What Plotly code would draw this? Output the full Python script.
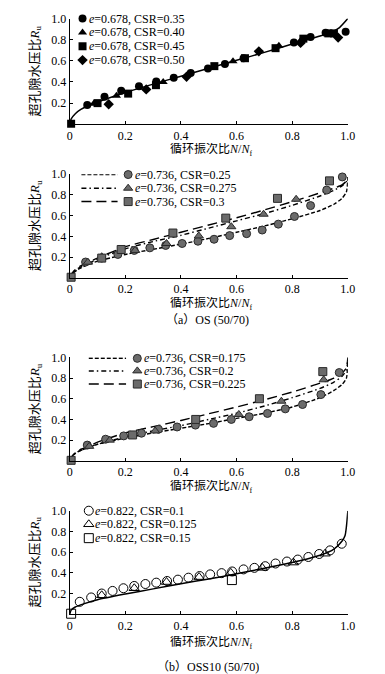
import plotly.graph_objects as go

W, H = 385, 674

# ---------------- data ----------------
# Panel 1: OS (50/70), e=0.678
p1_c_x = [0.063, 0.125, 0.185, 0.249, 0.311, 0.374, 0.435, 0.497, 0.558, 0.625, 0.806, 0.866, 0.92, 0.992]
p1_c_y = [0.183, 0.261, 0.317, 0.36, 0.404, 0.441, 0.484, 0.528, 0.571, 0.625, 0.773, 0.826, 0.865, 0.876]
p1_t_x = [0.086, 0.168, 0.336, 0.587, 0.752, 0.83]
p1_t_y = [0.193, 0.27, 0.40, 0.596, 0.742, 0.79]
p1_s_x = [0.005, 0.10, 0.21, 0.31, 0.52, 0.63, 0.74, 0.84, 0.93, 0.95]
p1_s_y = [0.005, 0.20, 0.29, 0.37, 0.55, 0.625, 0.72, 0.81, 0.86, 0.86]
p1_d_x = [0.14, 0.275, 0.42, 0.68, 0.83, 0.965]
p1_d_y = [0.19, 0.33, 0.45, 0.69, 0.77, 0.82]
p1_fit_x = [0, 0.005, 0.02, 0.04, 0.07, 0.1, 0.2, 0.3, 0.4, 0.5, 0.6, 0.7, 0.8, 0.9, 0.94, 0.97, 1.0]
p1_fit_y = [0, 0.05, 0.10, 0.14, 0.18, 0.21, 0.30, 0.38, 0.455, 0.53, 0.605, 0.68, 0.76, 0.835, 0.87, 0.915, 1.0]
p1_labels = ["0.35", "0.40", "0.45", "0.50"]

# Panel 2: OS (50/70), e=0.736
p2_c_x = [0.057, 0.115, 0.173, 0.232, 0.288, 0.345, 0.404, 0.461, 0.519, 0.575, 0.636, 0.692, 0.75, 0.808, 0.866, 0.924, 0.98]
p2_c_y = [0.152, 0.19, 0.225, 0.264, 0.289, 0.312, 0.331, 0.353, 0.372, 0.407, 0.426, 0.461, 0.518, 0.592, 0.697, 0.847, 0.974]
p2_t_x = [0.065, 0.115, 0.235, 0.348, 0.464, 0.581, 0.697, 0.814]
p2_t_y = [0.15, 0.203, 0.264, 0.331, 0.404, 0.493, 0.614, 0.758]
p2_s_x = [0.005, 0.115, 0.185, 0.371, 0.561, 0.747, 0.934]
p2_s_y = [0.005, 0.19, 0.273, 0.432, 0.576, 0.767, 0.936]
p2_fit_x = [0, 0.01, 0.03, 0.06, 0.1, 0.2, 0.3, 0.4, 0.5, 0.6, 0.7, 0.8, 0.9, 0.95, 0.98, 0.995, 1.0]
p2_fit1_y = [0, 0.04, 0.08, 0.12, 0.16, 0.225, 0.275, 0.325, 0.38, 0.44, 0.5, 0.57, 0.65, 0.71, 0.77, 0.83, 0.97]
p2_fit2_y = [0, 0.05, 0.09, 0.13, 0.18, 0.28, 0.35, 0.41, 0.48, 0.55, 0.62, 0.70, 0.79, 0.845, 0.89, 0.93, 0.97]
p2_fit3_y = [0, 0.05, 0.10, 0.14, 0.19, 0.30, 0.37, 0.44, 0.51, 0.58, 0.655, 0.735, 0.82, 0.865, 0.90, 0.935, 0.97]
p2_labels = ["0.25", "0.275", "0.3"]

# Panel 3: OS (50/70), e=0.736
p3_c_x = [0.063, 0.129, 0.194, 0.258, 0.319, 0.386, 0.452, 0.517, 0.581, 0.645, 0.711, 0.775, 0.837, 0.903, 0.969]
p3_c_y = [0.152, 0.209, 0.241, 0.267, 0.305, 0.327, 0.345, 0.362, 0.40, 0.426, 0.458, 0.502, 0.544, 0.64, 0.853]
p3_t_x = [0.07, 0.144, 0.307, 0.608, 0.761, 0.913]
p3_t_y = [0.14, 0.2, 0.289, 0.448, 0.576, 0.783]
p3_s_x = [0.005, 0.226, 0.453, 0.682, 0.91]
p3_s_y = [0.005, 0.25, 0.40, 0.60, 0.862]
p3_fit_x = [0, 0.01, 0.03, 0.06, 0.1, 0.2, 0.3, 0.4, 0.5, 0.6, 0.7, 0.8, 0.9, 0.95, 0.98, 0.995, 1.0]
p3_fit1_y = [0, 0.05, 0.09, 0.12, 0.16, 0.22, 0.27, 0.315, 0.36, 0.41, 0.46, 0.52, 0.61, 0.68, 0.74, 0.80, 0.98]
p3_fit2_y = [0, 0.05, 0.09, 0.12, 0.16, 0.23, 0.29, 0.34, 0.40, 0.46, 0.53, 0.61, 0.70, 0.76, 0.82, 0.88, 0.98]
p3_fit3_y = [0, 0.05, 0.10, 0.13, 0.18, 0.27, 0.33, 0.39, 0.455, 0.52, 0.59, 0.665, 0.75, 0.80, 0.85, 0.90, 1.0]
p3_labels = ["0.175", "0.2", "0.225"]

# Panel 4: OSS10 (50/70), e=0.822
p4_c_x = [0.036, 0.077, 0.115, 0.154, 0.193, 0.232, 0.272, 0.311, 0.35, 0.389, 0.427, 0.467, 0.505, 0.546, 0.584,
          0.625, 0.664, 0.703, 0.74, 0.781, 0.82, 0.858, 0.897, 0.936, 0.978]
p4_c_y = [0.12, 0.162, 0.2, 0.225, 0.251, 0.273, 0.292, 0.305, 0.321, 0.334, 0.353, 0.369, 0.385, 0.397, 0.413,
          0.433, 0.448, 0.464, 0.49, 0.509, 0.528, 0.553, 0.582, 0.617, 0.681]
p4_t_x = [0.115, 0.232, 0.348, 0.465, 0.579, 0.692, 0.804, 0.918]
p4_t_y = [0.183, 0.251, 0.311, 0.359, 0.40, 0.448, 0.499, 0.585]
p4_s_x = [0.005, 0.583]
p4_s_y = [0.005, 0.33]
p4_fit_x = [0, 0.005, 0.02, 0.05, 0.1, 0.2, 0.3, 0.4, 0.5, 0.6, 0.7, 0.8, 0.9, 0.95, 0.98, 0.99, 0.995, 1.0]
p4_fit_y = [0, 0.04, 0.07, 0.10, 0.14, 0.195, 0.245, 0.295, 0.34, 0.39, 0.445, 0.50, 0.57, 0.63, 0.71, 0.76, 0.85, 1.0]
p4_labels = ["0.1", "0.125", "0.15"]

x_ticks = [0, 0.2, 0.4, 0.6, 0.8, 1.0]
x_ticktext = ["0", "0.2", "0.4", "0.6", "0.8", "1.0"]
y_ticks = [0.2, 0.4, 0.6, 0.8, 1.0]
y_ticktext = ["0.2", "0.4", "0.6", "0.8", "1.0"]

# ---------------- layout helpers ----------------
SERIF = "Liberation Serif, Times New Roman, Noto Sans CJK SC, serif"
CJK = "Liberation Serif, Noto Sans CJK SC, serif"
X0_PX, X1_PX = 68.7, 355.0
panels_px = [(11.7, 118.5), (169.0, 273.6), (354.0, 458.6), (509.0, 613.6)]  # (y=1 px, y=0 px)


def py(p):
    return (H - p) / H


def px(p):
    return p / W


fig = go.Figure()
GRAY = "#6b6b6b"
EDGE = "#2a2a2a"


def sc(n, x, y, symbol, size=8, color="black", line_color="black", lw=0):
    fig.add_trace(go.Scatter(x=x, y=y, mode="markers", xaxis=f"x{n}", yaxis=f"y{n}", showlegend=False,
                             cliponaxis=False, hoverinfo="skip",
                             marker=dict(symbol=symbol, size=size, color=color,
                                         line=dict(color=line_color, width=lw))))


def ln(n, x, y, dash="solid", width=1.5):
    fig.add_trace(go.Scatter(x=x, y=y, mode="lines", xaxis=f"x{n}", yaxis=f"y{n}", showlegend=False,
                             cliponaxis=False, hoverinfo="skip",
                             line=dict(color="black", width=width, dash=dash, shape="spline", smoothing=0.6)))


DASHES = ["4px,2px", "5px,3px,1.5px,3px", "10px,5px"]

# Panel 1
ln(1, p1_fit_x, p1_fit_y)
sc(1, p1_c_x, p1_c_y, "circle", 8)
sc(1, p1_t_x, p1_t_y, "triangle-up", 8)
sc(1, p1_s_x, p1_s_y, "square", 8)
sc(1, p1_d_x, p1_d_y, "diamond", 8)

# Panel 2
for yy, d in zip([p2_fit1_y, p2_fit2_y, p2_fit3_y], DASHES):
    ln(2, p2_fit_x, yy, d, 1.4)
sc(2, p2_c_x, p2_c_y, "circle", 8, GRAY, EDGE, 1)
sc(2, p2_t_x, p2_t_y, "triangle-up", 8, GRAY, EDGE, 1)
sc(2, p2_s_x, p2_s_y, "square", 8, GRAY, EDGE, 1)

# Panel 3
for yy, d in zip([p3_fit1_y, p3_fit2_y, p3_fit3_y], DASHES):
    ln(3, p3_fit_x, yy, d, 1.4)
sc(3, p3_c_x, p3_c_y, "circle", 8, GRAY, EDGE, 1)
sc(3, p3_t_x, p3_t_y, "triangle-up", 8, GRAY, EDGE, 1)
sc(3, p3_s_x, p3_s_y, "square", 8, GRAY, EDGE, 1)

# Panel 4
ln(4, p4_fit_x, p4_fit_y)
sc(4, p4_c_x, p4_c_y, "circle-open", 9, "black", "black", 1)
sc(4, p4_t_x, p4_t_y, "triangle-up-open", 9, "black", "black", 1)
sc(4, p4_s_x, p4_s_y, "square-open", 9, "black", "black", 1)

# ---------------- legends (drawn inside each panel) ----------------
annotations = []
shapes = []


def legend(n, labels, e, symbols, mx, tx, rows, style, line_x=None, size=8):
    for i, (lab, sym) in enumerate(zip(labels, symbols)):
        ry = rows[i]
        if style == "filled":
            sc(n, [mx], [ry], sym, size)
        elif style == "gray":
            sc(n, [mx], [ry], sym, size, GRAY, EDGE, 1)
        else:
            sc(n, [mx], [ry], sym + "-open", size + 1, "black", "black", 1)
        if line_x is not None:
            shapes.append(dict(type="line", xref=f"x{n}", yref=f"y{n}", x0=line_x[0], x1=line_x[1], y0=ry, y1=ry,
                               line=dict(color="black", width=1.5, dash=DASHES[i])))
        annotations.append(dict(xref=f"x{n}", yref=f"y{n}", x=tx, y=ry, xanchor="left", yanchor="middle",
                                showarrow=False, text=f"<i>e</i>={e}, CSR={lab}",
                                font=dict(family=SERIF, size=12, color="black")))


legend(1, p1_labels, "0.678", ["circle", "triangle-up", "square", "diamond"], 0.046, 0.062,
       [1.0, 0.869, 0.738, 0.607], "filled")
legend(2, p2_labels, "0.736", ["circle", "triangle-up", "square"], 0.21, 0.226,
       [0.997, 0.865, 0.736], "gray", line_x=(0.042, 0.172))
legend(3, p3_labels, "0.736", ["circle", "triangle-up", "square"], 0.243, 0.259,
       [0.99, 0.869, 0.742], "gray", line_x=(0.0685, 0.2025))
legend(4, p4_labels, "0.822", ["circle", "triangle-up", "square"], 0.0685, 0.084,
       [1.0, 0.869, 0.735], "open")

# axis titles and captions
xtitle_px = [145.0, 300.0, 485.0, 642.3]
for i, (top, bot) in enumerate(panels_px):
    annotations.append(dict(xref="paper", yref="paper", x=px(33), y=py((top + bot) / 2), textangle=-90,
                            xanchor="center", yanchor="middle", showarrow=False,
                            text="超孔隙水压比<i>R</i><sub>u</sub>", font=dict(family=CJK, size=13, color="black")))
    annotations.append(dict(xref="paper", yref="paper", x=px(214), y=py(xtitle_px[i]), xanchor="center",
                            yanchor="middle", showarrow=False, height=14,
                            text="循环振次比<i>N</i>/<i>N</i><sub>f</sub>", font=dict(family=CJK, size=12, color="black")))
annotations.append(dict(xref="paper", yref="paper", x=px(211), y=py(316.5), xanchor="center", yanchor="middle",
                        showarrow=False, height=14, text="（a）OS (50/70)",
                        font=dict(family=CJK, size=12, color="black")))
annotations.append(dict(xref="paper", yref="paper", x=px(211), y=py(666.7), xanchor="center", yanchor="middle",
                        showarrow=False, height=14, text="（b）OSS10 (50/70)",
                        font=dict(family=CJK, size=12, color="black")))

layout = dict(width=W, height=H, margin=dict(l=0, r=0, t=0, b=0), paper_bgcolor="white", plot_bgcolor="white",
              showlegend=False, annotations=annotations, shapes=shapes, hovermode=False)

for i, (top, bot) in enumerate(panels_px, start=1):
    sfx = "" if i == 1 else str(i)
    common = dict(showgrid=False, zeroline=False, showline=True, linecolor="black", linewidth=1,
                  ticks="inside", ticklen=3, tickcolor="black", tickwidth=1,
                  tickfont=dict(family=SERIF, size=12, color="black"))
    layout["xaxis" + sfx] = dict(domain=[px(X0_PX), px(X1_PX)], range=[0, 1.0], anchor="y" + sfx,
                                 tickvals=x_ticks, ticktext=x_ticktext, **common)
    layout["yaxis" + sfx] = dict(domain=[py(bot), py(top)], range=[0, 1.0], anchor="x" + sfx,
                                 tickvals=y_ticks, ticktext=y_ticktext, **common)

fig.update_layout(**layout)
fig.write_html("out.html", config={"displayModeBar": False},
               post_script="document.body.style.margin='0';document.body.style.padding='0';")
